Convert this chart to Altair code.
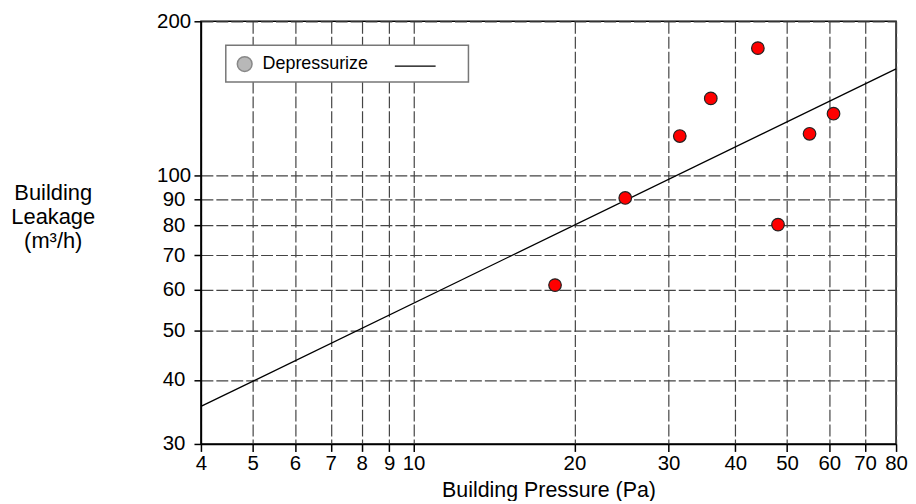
import altair as alt
import pandas as pd

# ---- data ----
pressure = [18.4, 24.9, 31.5, 36.0, 44.1, 48.1, 55.1, 61.1]
leakage = [61.2, 90.5, 119.5, 141.5, 177.3, 80.3, 120.7, 132.1]
fit_pressure = [4, 80]
fit_leakage = [35.5, 161.5]
x_ticks = [4, 5, 6, 7, 8, 9, 10, 20, 30, 40, 50, 60, 70, 80]
y_ticks = [30, 40, 50, 60, 70, 80, 90, 100, 200]
legend_label = ["Depressurize"]

pts = pd.DataFrame({"p": pressure, "q": leakage})
fit = pd.DataFrame({"p": fit_pressure, "q": fit_leakage})
leg = pd.DataFrame({"label": legend_label})

FONT = "Liberation Sans"

xscale = alt.Scale(type="log", domain=[4, 80], nice=False)
yscale = alt.Scale(type="log", domain=[30, 200], nice=False)

xaxis = alt.Axis(
    values=x_ticks, format="d", title="Building Pressure (Pa)",
    grid=True, gridDash=[12, 3], gridColor="#444", gridWidth=1.2,
    domainColor="black", domainWidth=1.5, tickColor="black", tickWidth=1.5,
    tickSize=7.5, labelFontSize=20.5, labelColor="black", labelPadding=2,
    labelFont=FONT, titleFont=FONT, titleFontSize=21.5, titleFontWeight="normal",
    titleColor="black", titleBaseline="alphabetic", titleY=53,
    labelFlush=False, labelOverlap=False,
)
yaxis = alt.Axis(
    values=y_ticks, format="d", title=["Building", "Leakage", "(m³/h)"],
    grid=True, gridDash=[12, 3], gridColor="#444", gridWidth=1.2,
    domainColor="black", domainWidth=1.5, tickColor="black", tickWidth=1.5,
    tickSize=7, labelFontSize=20.5, labelColor="black", labelPadding=20.5,
    labelAlign="center", labelBaseline="middle",
    labelFont=FONT, titleFont=FONT, titleFontSize=22, titleFontWeight="normal",
    titleColor="black", titleAngle=0, titleAlign="center",
    titleBaseline="alphabetic", titleX=-149, titleY=179, titleLineHeight=24,
    labelFlush=False, labelOverlap=False,
)

line = alt.Chart(fit).mark_line(color="black", strokeWidth=1.3).encode(
    x=alt.X("p:Q", scale=xscale, axis=xaxis),
    y=alt.Y("q:Q", scale=yscale, axis=yaxis),
)

points = alt.Chart(pts).mark_point(
    shape="circle", filled=True, fill="#ff0000", stroke="#222",
    strokeWidth=1.2, size=160, opacity=1,
).encode(
    x=alt.X("p:Q", scale=xscale),
    y=alt.Y("q:Q", scale=yscale),
)

leg_box = alt.Chart(leg).mark_rect(
    fill="white", stroke="#777", strokeWidth=1.5
).encode(x=alt.value(25), x2=alt.value(269), y=alt.value(24), y2=alt.value(61))

leg_sym = alt.Chart(leg).mark_point(
    shape="circle", filled=True, fill="#b8b8b8", stroke="#888",
    strokeWidth=1.5, size=220, opacity=1,
).encode(x=alt.value(44), y=alt.value(43))

leg_text = alt.Chart(leg).mark_text(
    align="left", baseline="middle", fontSize=18, font=FONT, color="black"
).encode(x=alt.value(62), y=alt.value(43), text="label:N")

leg_line = alt.Chart(leg).mark_rule(color="black", strokeWidth=1.3).encode(
    x=alt.value(195), x2=alt.value(236), y=alt.value(45)
)

chart = alt.layer(line, points, leg_box, leg_sym, leg_text, leg_line).properties(
    width=699, height=425,
    padding={"left": 194, "top": 12, "right": 12, "bottom": 56},
    autosize=alt.AutoSizeParams(type="none"),
    background="white",
).configure_view(stroke="black", strokeWidth=1.5)

chart.save("out.html", embed_options={"renderer": "svg", "actions": False})
